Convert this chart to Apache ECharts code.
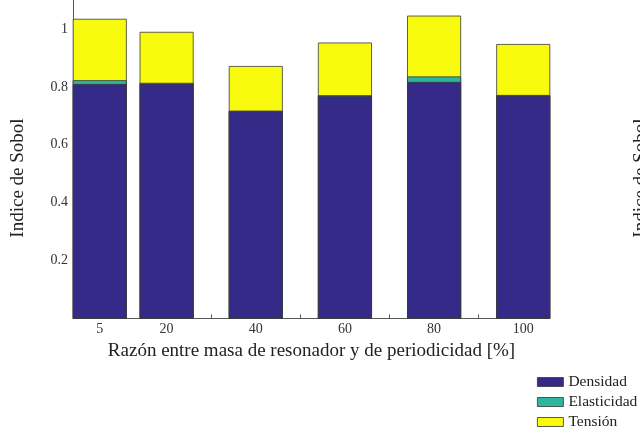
<!DOCTYPE html>
<html>
<head>
<meta charset="utf-8">
<script src="https://cdn.jsdelivr.net/npm/echarts@6/dist/echarts.min.js"></script>
<style>html,body{margin:0;padding:0;background:#fff}#c{width:640px;height:433px}</style>
</head>
<body>
<div id="c"></div>
<script>
const positions = [5, 20, 40, 60, 80, 100];
const xTickLabels = ['5', '20', '40', '60', '80', '100'];
const yTickValues = [0.2, 0.4, 0.6, 0.8, 1];
const densidad =    [0.810, 0.811, 0.716, 0.769, 0.817, 0.770];
const elasticidad = [0.013, 0.003, 0.002, 0.002, 0.019, 0.002];
const tension =     [0.212, 0.176, 0.154, 0.182, 0.210, 0.176];
const seriesNames = ['Densidad', 'Elasticidad', 'Tensión'];
const colors = ['#352a87', '#2fb59c', '#f9fb0e'];

const font = 'Liberation Serif';
const chart = echarts.init(document.getElementById('c'));
const vals = [densidad, elasticidad, tension];
// cumulative tops (stack built from the arrays)
const cumul = vals.map((_, i) => positions.map((p, j) => {
  let s = 0; for (let k = 0; k <= i; k++) s += vals[k][j]; return s;
}));
const series = [];
for (let i = vals.length - 1; i >= 0; i--) {
  series.push({
    name: seriesNames[i], type: 'bar', barWidth: 54, barGap: '-100%',
    z: 2 + (vals.length - i),
    itemStyle: { color: colors[i], borderColor: '#3a3a3a', borderWidth: 0.8 },
    data: positions.map((p, j) => [p, cumul[i][j]])
  });
}
chart.setOption({
  animation: false,
  textStyle: { fontFamily: font },
  grid: { left: 73, right: 90, top: 0, bottom: 114.5 },
  xAxis: {
    type: 'value', min: -1, max: 106,
    name: 'Razón entre masa de resonador y de periodicidad [%]',
    nameLocation: 'middle', nameGap: 22,
    nameTextStyle: { fontFamily: font, fontSize: 19, color: '#222' },
    axisLine: { show: true, onZero: false, lineStyle: { color: '#555', width: 1 } },
    axisTick: { show: true, inside: true, length: 4, lineStyle: { color: '#555' },
      customValues: [0, 10, 20, 30, 40, 50, 60, 70, 80, 90, 100] },
    axisLabel: { fontFamily: font, fontSize: 14, color: '#333', margin: 4,
      customValues: positions,
      formatter: v => xTickLabels[positions.indexOf(v)] },
    splitLine: { show: false }
  },
  yAxis: {
    type: 'value', min: 0, max: 1.1,
    axisLine: { show: true, onZero: false, lineStyle: { color: '#555', width: 1 } },
    axisTick: { show: true, inside: true, length: 5, lineStyle: { color: '#555' }, customValues: yTickValues },
    axisLabel: { fontFamily: font, fontSize: 14, color: '#333', margin: 5, customValues: yTickValues,
      formatter: v => String(Math.round(v * 10) / 10) },
    splitLine: { show: false }
  },
  legend: {
    orient: 'vertical', left: 537, top: 374, padding: 0,
    itemWidth: 26, itemHeight: 9, itemGap: 4,
    textStyle: { fontFamily: font, fontSize: 15.5, color: '#222' },
    itemStyle: { borderColor: '#333', borderWidth: 0.8 },
    data: seriesNames.map(n => ({ name: n, icon: 'rect' }))
  },
  graphic: [{
    type: 'text', x: 18, y: 178, rotation: Math.PI / 2,
    style: { text: 'Indice de Sobol', font: '19px "Liberation Serif"', fill: '#222',
      textAlign: 'center', textVerticalAlign: 'middle' }
  }, {
    type: 'text', x: 641, y: 178, rotation: Math.PI / 2,
    style: { text: 'Indice de Sobol', font: '19px "Liberation Serif"', fill: '#222',
      textAlign: 'center', textVerticalAlign: 'middle' }
  }],
  series: series
});
</script>
</body>
</html>
